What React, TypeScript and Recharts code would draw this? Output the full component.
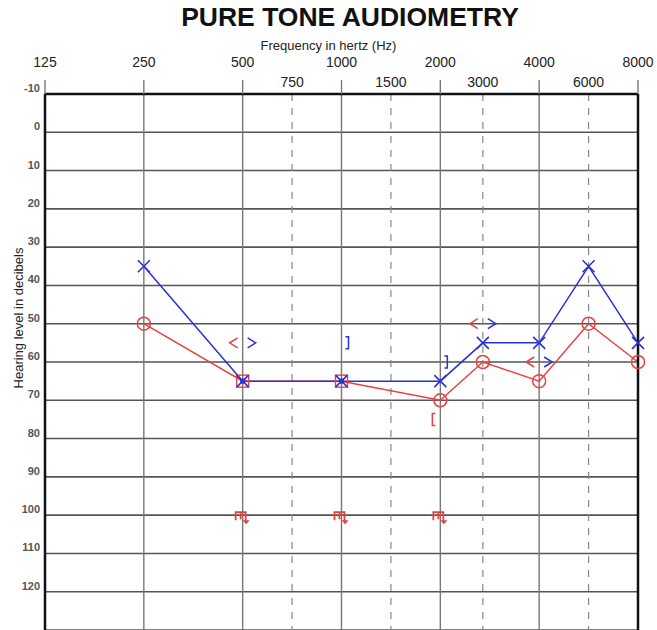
import React from 'react';
import { ComposedChart, Line, Scatter, XAxis, YAxis, CartesianGrid, ReferenceLine } from 'recharts';

// audiogram frequency scale: octaves evenly spaced, inter-octave lines between them
const FREQ_POS: Record<number, number> = {
  125: 0, 250: 1, 500: 2, 750: 2.5, 1000: 3, 1500: 3.5,
  2000: 4, 3000: 4.43, 4000: 5, 6000: 5.5, 8000: 6,
};

const OCTAVE_TICKS = [125, 250, 500, 1000, 2000, 4000, 8000];
const MID_TICKS = [750, 1500, 3000, 6000];
const DB_TICKS = [-10, 0, 10, 20, 30, 40, 50, 60, 70, 80, 90, 100, 110, 120];

// air conduction
const FREQUENCIES = [250, 500, 1000, 2000, 3000, 4000, 6000, 8000];
const RIGHT_EAR_AC = [50, 65, 65, 70, 60, 65, 50, 60];
const LEFT_EAR_AC = [35, 65, 65, 65, 55, 55, 35, 55];
const COMBINED_MARK_FREQS = [500, 1000];

// bone conduction
const BC_UNMASKED_FREQS = [500, 3000, 4000];
const RIGHT_BC_UNMASKED = [55, 50, 60];
const LEFT_BC_UNMASKED = [55, 50, 60];
const LEFT_BC_MASKED_FREQS = [1000, 2000];
const LEFT_BC_MASKED = [55, 60];
const RIGHT_BC_MASKED_FREQS = [2000];
const RIGHT_BC_MASKED = [75];

// no response
const NO_RESPONSE_FREQS = [500, 1000, 2000];
const NO_RESPONSE_LEVELS = [100, 100, 100];

const RED = '#e8413c';
const BLUE = '#2a32d6';

const toPoints = (freqs: number[], levels: number[]) =>
  freqs.map((f, i) => ({ x: FREQ_POS[f], y: levels[i], freq: f }));

const rightAc = toPoints(FREQUENCIES, RIGHT_EAR_AC);
const leftAc = toPoints(FREQUENCIES, LEFT_EAR_AC);
const rightBcU = toPoints(BC_UNMASKED_FREQS, RIGHT_BC_UNMASKED);
const leftBcU = toPoints(BC_UNMASKED_FREQS, LEFT_BC_UNMASKED);
const leftBcM = toPoints(LEFT_BC_MASKED_FREQS, LEFT_BC_MASKED);
const rightBcM = toPoints(RIGHT_BC_MASKED_FREQS, RIGHT_BC_MASKED);
const noResp = toPoints(NO_RESPONSE_FREQS, NO_RESPONSE_LEVELS);

const CircleDot = (p: any) => {
  const { cx, cy, payload } = p;
  if (cx == null || cy == null) return <g key={p.index} />;
  if (COMBINED_MARK_FREQS.includes(payload.freq)) {
    return (
      <g key={p.index}>
        <rect x={cx - 6} y={cy - 6} width={12} height={12} fill="none" stroke={RED} strokeWidth={1.4} />
      </g>
    );
  }
  return <circle key={p.index} cx={cx} cy={cy} r={6.5} fill="none" stroke={RED} strokeWidth={1.5} />;
};

const CrossDot = (p: any) => {
  const { cx, cy, payload } = p;
  if (cx == null || cy == null) return <g key={p.index} />;
  const s = 6;
  return (
    <g key={p.index}>
      <path d={`M${cx - s},${cy - s}L${cx + s},${cy + s}M${cx + s},${cy - s}L${cx - s},${cy + s}`} stroke={BLUE} strokeWidth={1.6} />
      {COMBINED_MARK_FREQS.includes(payload.freq) && (
        <rect x={cx - 2.5} y={cy - 2.5} width={5} height={5} fill={BLUE} />
      )}
    </g>
  );
};

const LessThan = (p: any) => {
  const x = p.cx - 9, y = p.cy;
  return <path d={`M${x + 4},${y - 5}L${x - 4},${y}L${x + 4},${y + 5}`} fill="none" stroke={RED} strokeWidth={1.5} />;
};

const GreaterThan = (p: any) => {
  const x = p.cx + 9, y = p.cy;
  return <path d={`M${x - 4},${y - 5}L${x + 4},${y}L${x - 4},${y + 5}`} fill="none" stroke={BLUE} strokeWidth={1.5} />;
};

const RightBracket = (p: any) => {
  const x = p.cx + 7, y = p.cy;
  return <path d={`M${x - 3},${y - 6}H${x}V${y + 6}H${x - 3}`} fill="none" stroke={BLUE} strokeWidth={1.5} />;
};

const LeftBracket = (p: any) => {
  const x = p.cx - 8, y = p.cy;
  return <path d={`M${x + 3},${y - 6}H${x}V${y + 6}H${x + 3}`} fill="none" stroke={RED} strokeWidth={1.5} />;
};

const NoResponse = (p: any) => {
  const { cx, cy } = p;
  return (
    <g>
      <path d={`M${cx - 7},${cy + 5}V${cy - 3}H${cx + 3}V${cy + 6}M${cx - 2},${cy - 3}V${cy + 4}`}
        fill="none" stroke={RED} strokeWidth={1.8} />
      <path d={`M${cx},${cy + 5}L${cx + 7},${cy + 5}L${cx + 3.5},${cy + 9}Z`} fill={RED} />
    </g>
  );
};

const FreqTick = (p: any) => {
  const { x, payload } = p;
  const v = payload.value;
  const freq = Number(Object.keys(FREQ_POS).find((k) => FREQ_POS[Number(k)] === v));
  const isOctave = OCTAVE_TICKS.includes(freq);
  return (
    <g>
      {isOctave && <line x1={x} x2={x} y1={80} y2={94} stroke="#777" strokeWidth={1.4} />}
      <text x={x} y={isOctave ? 67 : 87} textAnchor="middle" fontSize={14} fill="#222" fontFamily="Liberation Sans, Arial, sans-serif">
        {freq}
      </text>
    </g>
  );
};

const DbTick = (side: 'left' | 'right') => (p: any) => {
  const { y, payload } = p;
  return (
    <text x={side === 'left' ? 40 : 642} y={y - 2} textAnchor={side === 'left' ? 'end' : 'start'}
      fontSize={11} fontWeight="bold" fill="#555" fontFamily="Liberation Sans, Arial, sans-serif">
      {payload.value}
    </text>
  );
};

const App = () => {
  const tickPositions = [...OCTAVE_TICKS, ...MID_TICKS].map((f) => FREQ_POS[f]).sort((a, b) => a - b);
  return (
    <div style={{ position: 'absolute', left: 0, top: 0, width: 657, height: 630, background: '#fff', fontFamily: 'Liberation Sans, Arial, sans-serif' }}>
      <div style={{ position: 'absolute', left: 0, width: 700, top: 2, textAlign: 'center', fontSize: 26.5, fontWeight: 'bold', color: '#111' }}>
        PURE TONE AUDIOMETRY
      </div>
      <div style={{ position: 'absolute', left: 0, width: 657, top: 38, textAlign: 'center', fontSize: 13, color: '#222' }}>
        Frequency in hertz (Hz)
      </div>
      <div style={{ position: 'absolute', left: 18, top: 318, transform: 'translate(-50%, -50%) rotate(-90deg)', whiteSpace: 'nowrap', fontSize: 13, color: '#222' }}>
        Hearing level in decibels
      </div>
      <ComposedChart width={657} height={630} margin={{ top: 0, right: 0, bottom: 0, left: 0 }} style={{ position: 'absolute', left: 0, top: 0 }}>
        <CartesianGrid yAxisId="left" xAxisId="top" vertical={false} stroke="#555" strokeWidth={1.6} />
        <XAxis xAxisId="top" orientation="top" type="number" dataKey="x" domain={[0, 6]} ticks={tickPositions}
          height={94} axisLine={{ stroke: '#111', strokeWidth: 2.5 }} tickLine={false} tick={<FreqTick />} interval={0} />
        <YAxis yAxisId="left" orientation="left" type="number" dataKey="y" domain={[-10, 130]} reversed ticks={DB_TICKS}
          width={45} axisLine={{ stroke: '#111', strokeWidth: 2.5 }} tickLine={false} tick={DbTick('left')} interval={0} />
        <YAxis yAxisId="right" orientation="right" type="number" dataKey="y" domain={[-10, 130]} reversed ticks={DB_TICKS}
          width={19} axisLine={{ stroke: '#111', strokeWidth: 2.5 }} tickLine={false} tick={DbTick('right')} interval={0} />
        {OCTAVE_TICKS.slice(1, -1).map((f) => (
          <ReferenceLine key={f} xAxisId="top" yAxisId="left" x={FREQ_POS[f]} stroke="#777" strokeWidth={1.4} />
        ))}
        {MID_TICKS.map((f) => (
          <ReferenceLine key={f} xAxisId="top" yAxisId="left" x={FREQ_POS[f]} stroke="#888" strokeWidth={1.2} strokeDasharray="7 7" />
        ))}
        <Line xAxisId="top" yAxisId="left" data={rightAc} dataKey="y" stroke={RED} strokeWidth={1.5} dot={CircleDot} activeDot={false} isAnimationActive={false} />
        <Line xAxisId="top" yAxisId="left" data={leftAc} dataKey="y" stroke={BLUE} strokeWidth={1.5} dot={CrossDot} activeDot={false} isAnimationActive={false} />
        <Scatter xAxisId="top" yAxisId="left" data={rightBcU} shape={LessThan} isAnimationActive={false} />
        <Scatter xAxisId="top" yAxisId="left" data={leftBcU} shape={GreaterThan} isAnimationActive={false} />
        <Scatter xAxisId="top" yAxisId="left" data={leftBcM} shape={RightBracket} isAnimationActive={false} />
        <Scatter xAxisId="top" yAxisId="left" data={rightBcM} shape={LeftBracket} isAnimationActive={false} />
        <Scatter xAxisId="top" yAxisId="left" data={noResp} shape={NoResponse} isAnimationActive={false} />
      </ComposedChart>
    </div>
  );
};

export default App;
